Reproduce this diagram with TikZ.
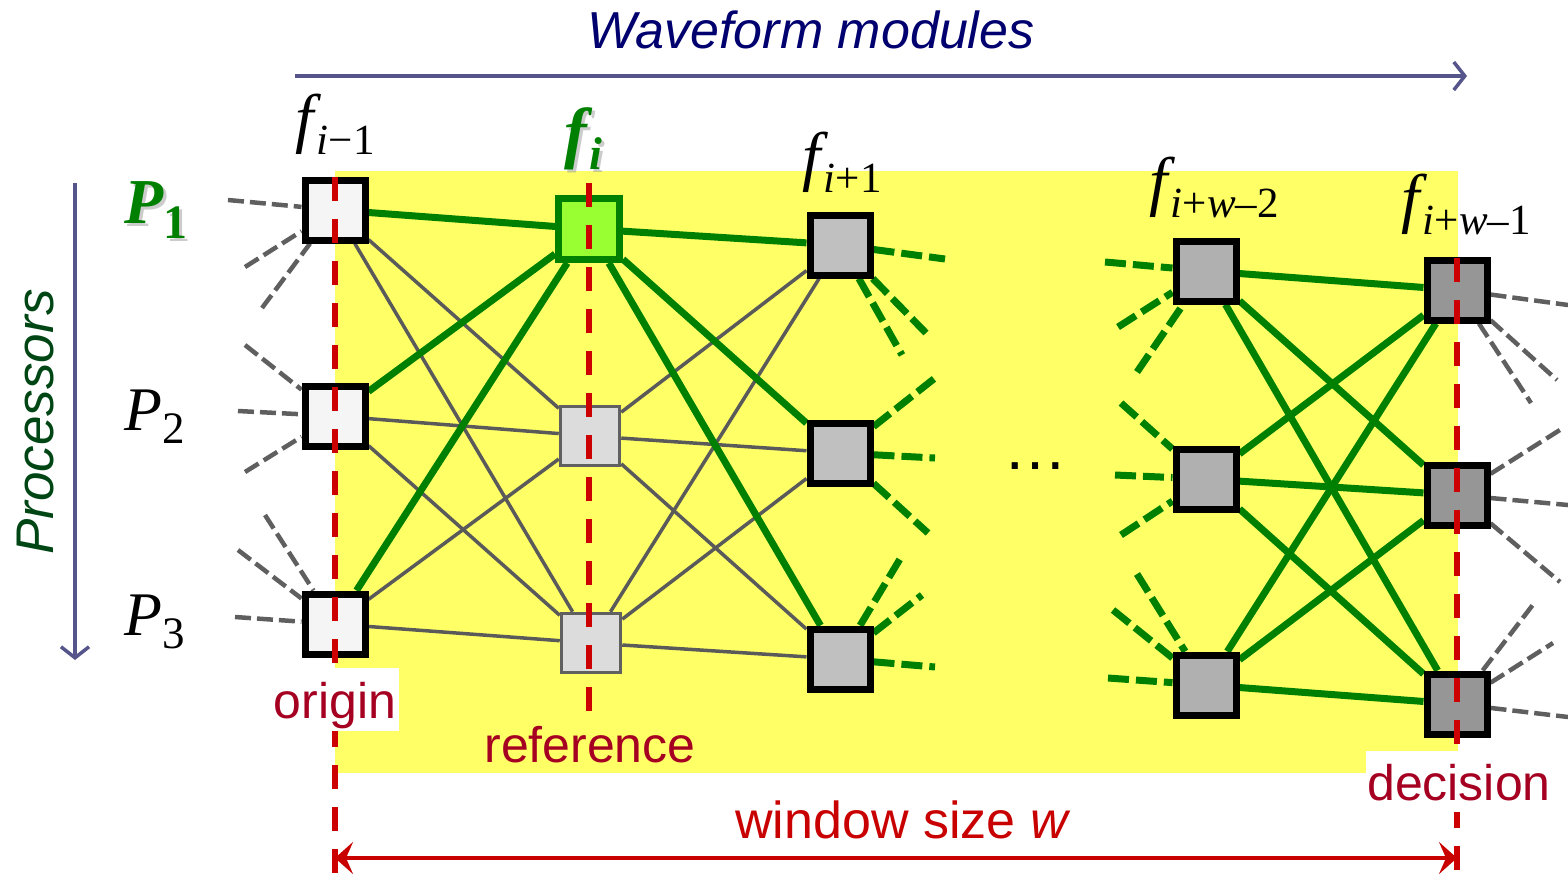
\documentclass[tikz,border=0pt]{standalone}
\usepackage{fontspec}
\setmainfont{Liberation Serif}
\setsansfont{Liberation Sans}
\usetikzlibrary{arrows.meta}

\definecolor{hl}{RGB}{255,255,102}
\definecolor{grn}{RGB}{0,128,0}
\definecolor{lgrn}{RGB}{153,255,51}
\definecolor{edgegray}{RGB}{90,90,90}
\definecolor{stubgray}{RGB}{95,95,95}
\definecolor{axiscol}{RGB}{85,85,140}
\definecolor{navy}{RGB}{0,0,110}
\definecolor{dgrn}{RGB}{0,70,20}
\definecolor{mark}{RGB}{204,0,0}
\definecolor{lab}{RGB}{165,0,33}
\definecolor{wred}{RGB}{200,0,0}

\newcommand\setsz[1]{\fontsize{#1}{#1}\selectfont}
% f with a lowered subscript
\newcommand\flab[1]{{\setsz{66}\itshape f}\kern3pt\raisebox{-14pt}{\setsz{43}#1}}

\begin{document}
\begin{tikzpicture}[x=1pt,y=-1pt,
  mod/.style={rectangle, draw=black, line width=7pt, minimum size=60pt, inner sep=0pt},
  modA/.style={mod, fill={rgb,255:red,245;green,245;blue,245}},
  modB/.style={mod, draw=grn, fill=lgrn, minimum size=61pt},
  modBg/.style={mod, draw={rgb,255:red,96;green,96;blue,96}, line width=3.5pt, minimum size=59pt, fill={rgb,255:red,220;green,220;blue,220}},
  modC/.style={mod, fill={rgb,255:red,192;green,192;blue,192}},
  modD/.style={mod, fill={rgb,255:red,176;green,176;blue,176}},
  modE/.style={mod, fill={rgb,255:red,150;green,150;blue,150}},
  thinedge/.style={draw=edgegray, line width=3.5pt},
  thickedge/.style={draw=grn, line width=7pt},
  gstub/.style={draw=grn, line width=7pt, dash pattern=on 21pt off 7pt},
  pstub/.style={draw=stubgray, line width=4.5pt, dash pattern=on 16pt off 6pt},
  refline/.style={draw=mark, line width=6pt, dash pattern=on 24pt off 18pt},
  axisarrow/.style={draw=axiscol, line width=3.5pt, -{Straight Barb[length=11pt,width=28pt]}},
  marklab/.style={anchor=base, text=lab, font=\sffamily\setsz{50}},
]
\useasboundingbox (0,0) rectangle (1568,873);

% highlighted window
\fill[hl] (335,171) rectangle (1458,773);

% modules
\node[modA]  (A1) at (335,210) {};
\node[modA]  (A2) at (335,416) {};
\node[modA]  (A3) at (335,624) {};
\node[modB]  (B1) at (589,229) {};
\node[modBg] (B2) at (590,436) {};
\node[modBg] (B3) at (591,643) {};
\node[modC]  (C1) at (840,245) {};
\node[modC]  (C2) at (840,453) {};
\node[modC]  (C3) at (840,659) {};
\node[modD]  (D1) at (1206,271) {};
\node[modD]  (D2) at (1206,479) {};
\node[modD]  (D3) at (1206,685) {};
\node[modE]  (E1) at (1457,290) {};
\node[modE]  (E2) at (1457,495) {};
\node[modE]  (E3) at (1457,704) {};

% thin links
\foreach \a/\b in {A1/B2,A1/B3,A2/B2,A2/B3,A3/B2,A3/B3,
                   B2/C1,B2/C2,B2/C3,B3/C1,B3/C2,B3/C3}
  \draw[thinedge] (\a) -- (\b);
% strong links
\foreach \a/\b in {A1/B1,A2/B1,A3/B1,B1/C1,B1/C2,B1/C3,
                   D1/E1,D1/E2,D1/E3,D2/E1,D2/E2,D2/E3,D3/E1,D3/E2,D3/E3}
  \draw[thickedge] (\a) -- (\b);

% stubs towards and from the hidden modules
\foreach \n/\k/\x/\y in {C1/1/945/259, C1/2/926/333, C1/3/902/355,
                         C2/1/935/378, C2/2/935/458, C2/3/928/533,
                         C3/1/903/554, C3/2/922/595, C3/3/935/667}
  {\coordinate (\n s\k) at (\x,\y);
   \draw[gstub] (\n) -- (\n s\k);}
\foreach \n/\k/\x/\y in {D1/1/1105/262, D1/2/1118/327, D1/3/1137/372,
                         D2/1/1121/403, D2/2/1115/475, D2/3/1121/535,
                         D3/1/1137/574, D3/2/1113/610, D3/3/1108/678}
  {\coordinate (\n s\k) at (\x,\y);
   \draw[gstub] (\n s\k) -- (\n);}
\foreach \n/\k/\x/\y in {A1/1/228/200, A1/2/245/267, A1/3/262/308,
                         A2/1/245/345, A2/2/238/411, A2/3/245/472,
                         A3/1/265/515, A3/2/238/550, A3/3/235/617}
  {\coordinate (\n s\k) at (\x,\y);
   \draw[pstub] (\n s\k) -- (\n);}
\foreach \n/\k/\x/\y in {E1/1/1568/305, E1/2/1557/380, E1/3/1531/403,
                         E2/1/1563/428, E2/2/1568/505, E2/3/1560/582,
                         E3/1/1535/602, E3/2/1553/643, E3/3/1568/717}
  {\coordinate (\n s\k) at (\x,\y);
   \draw[pstub] (\n) -- (\n s\k);}

% redraw modules on top of the links
\foreach \n/\s in {A1/modA,A2/modA,A3/modA,B1/modB,B2/modBg,B3/modBg,
                   C1/modC,C2/modC,C3/modC,D1/modD,D2/modD,D3/modD,E1/modE,E2/modE,E3/modE}
  \node[\s] (\n top) at (\n) {};

% origin, reference and decision markers
\coordinate (orgT) at (335,177);  \coordinate (orgB) at (335,873);
\coordinate (refT) at (589,183);  \coordinate (refB) at (589,712);
\coordinate (decT) at (1457,258); \coordinate (decB) at (1457,873);
\draw[refline] (orgT) -- (orgB);
\draw[refline] (refT) -- (refB);
\draw[refline] (decT) -- (decB);

% label backgrounds
\fill[white] (272,668) rectangle (399,731);
\fill[white] (1366,751) rectangle (1558,812);

\node[marklab] (origin) at (335,718) {origin};
\node[marklab] (reference) at (590,762) {reference};
\node[marklab] (decision) at (1459,800) {decision};

% window size
\coordinate (wL) at (335,858);
\coordinate (wR) at (1457,858);
\draw[wred, line width=4.5pt, {Stealth[length=18pt,width=32pt,inset=7pt]}-{Stealth[length=18pt,width=32pt,inset=7pt]}] (wL) -- (wR);
\node[anchor=base, text=wred, font=\sffamily\setsz{52}] (wsize) at (903,838) {window size \textit{w}};

% axes
\node[anchor=base, text=navy, font=\sffamily\itshape\setsz{52}] (title) at (811,48) {Waveform modules};
\coordinate (axL) at (295,76);
\coordinate (axR) at (1467,76);
\draw[axisarrow] (axL) -- (axR);
\coordinate (prT) at (75,183);
\coordinate (prB) at (75,660);
\draw[axisarrow] (prT) -- (prB);
\node[rotate=90, anchor=base, text=dgrn, font=\sffamily\itshape\setsz{53}] (proc) at (53,422) {Processors};

% processor labels
\node[anchor=base west, text=black!40, opacity=0.5] (P1sh) at (124,226)
  {{\setsz{64}\bfseries\itshape P}\raisebox{-15pt}{\setsz{48}\bfseries 1}};
\node[anchor=base west, text=grn] (P1) at (121,223)
  {{\setsz{64}\bfseries\itshape P}\raisebox{-15pt}{\setsz{48}\bfseries 1}};
\node[anchor=base west] (P2) at (121,430)
  {{\setsz{62}\itshape P}\raisebox{-13pt}{\setsz{45}2}};
\node[anchor=base west] (P3) at (121,635)
  {{\setsz{62}\itshape P}\raisebox{-13pt}{\setsz{45}3}};

% module labels
\node[anchor=base west] (f1) at (292,140) {\flab{\textit{i}−1}};
\node[anchor=base west, text=black!40, opacity=0.5] (f2sh) at (564,158)
  {{\setsz{68}\bfseries\itshape f}\kern2pt\raisebox{-14pt}{\setsz{46}\bfseries\itshape i}};
\node[anchor=base west, text=grn] (f2) at (561,155)
  {{\setsz{68}\bfseries\itshape f}\kern2pt\raisebox{-14pt}{\setsz{46}\bfseries\itshape i}};
\node[anchor=base west] (f3) at (799,178) {\flab{\textit{i}+1}};
\node[anchor=base west] (f4) at (1146,203) {\flab{\textit{i}+\textit{w}–2}};
\node[anchor=base west] (f5) at (1398,220) {\flab{\textit{i}+\textit{w}–1}};

% continuation
\node[anchor=base, font=\sffamily\setsz{64}] (dots) at (1035,469) {…};
\end{tikzpicture}
\end{document}
